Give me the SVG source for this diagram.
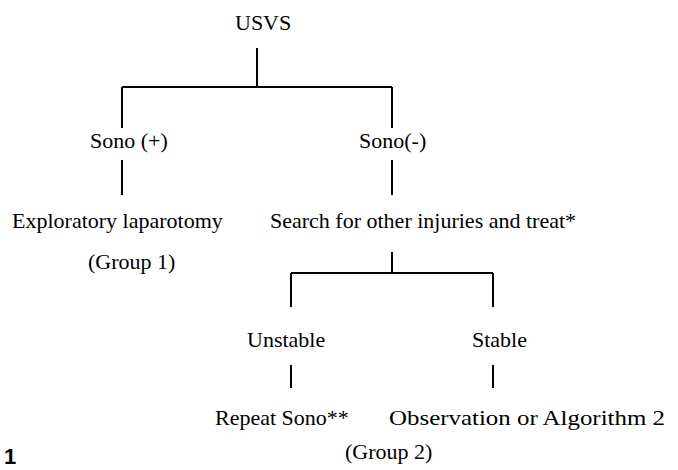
<svg xmlns="http://www.w3.org/2000/svg" width="678" height="470" viewBox="0 0 678 470">
<style>
.t{font-family:"Liberation Serif","Times New Roman",serif;font-size:22px;fill:#000}
.c{stroke:#000;stroke-width:2;fill:none}
.n{font-family:"Liberation Sans",Arial,sans-serif;font-size:22px;font-weight:bold;fill:#000}
</style>
<rect width="678" height="470" fill="#fff"/>
<g id="connectors">
<path class="c" d="M257,48V87M122,87H392M122,87V128M392,87V128"/>
<path class="c" d="M122,160V195M392,160V195"/>
<path class="c" d="M392,252V273M291,273H493M291,273V307M493,273V307"/>
<path class="c" d="M291,365V388M493,365V388"/>
</g>
<g id="usvs"><text class="t" x="235" y="30">USVS</text></g>
<g id="sono-pos"><text class="t" x="90" y="148">Sono (+)</text></g>
<g id="sono-neg"><text class="t" x="359" y="148">Sono(-)</text></g>
<g id="laparotomy"><text class="t" x="12" y="228">Exploratory laparotomy</text></g>
<g id="group1"><text class="t" x="88" y="269">(Group 1)</text></g>
<g id="search"><text class="t" x="270" y="228">Search for other injuries and treat*</text></g>
<g id="unstable"><text class="t" x="247" y="347">Unstable</text></g>
<g id="stable"><text class="t" x="472" y="347">Stable</text></g>
<g id="repeat"><text class="t" x="215" y="425">Repeat Sono**</text></g>
<g id="observation"><text class="t" x="389" y="425" textLength="276" lengthAdjust="spacingAndGlyphs">Observation or Algorithm 2</text></g>
<g id="group2"><text class="t" x="345" y="459">(Group 2)</text></g>
<g id="figure-number"><text class="n" x="4" y="464">1</text></g>
</svg>
